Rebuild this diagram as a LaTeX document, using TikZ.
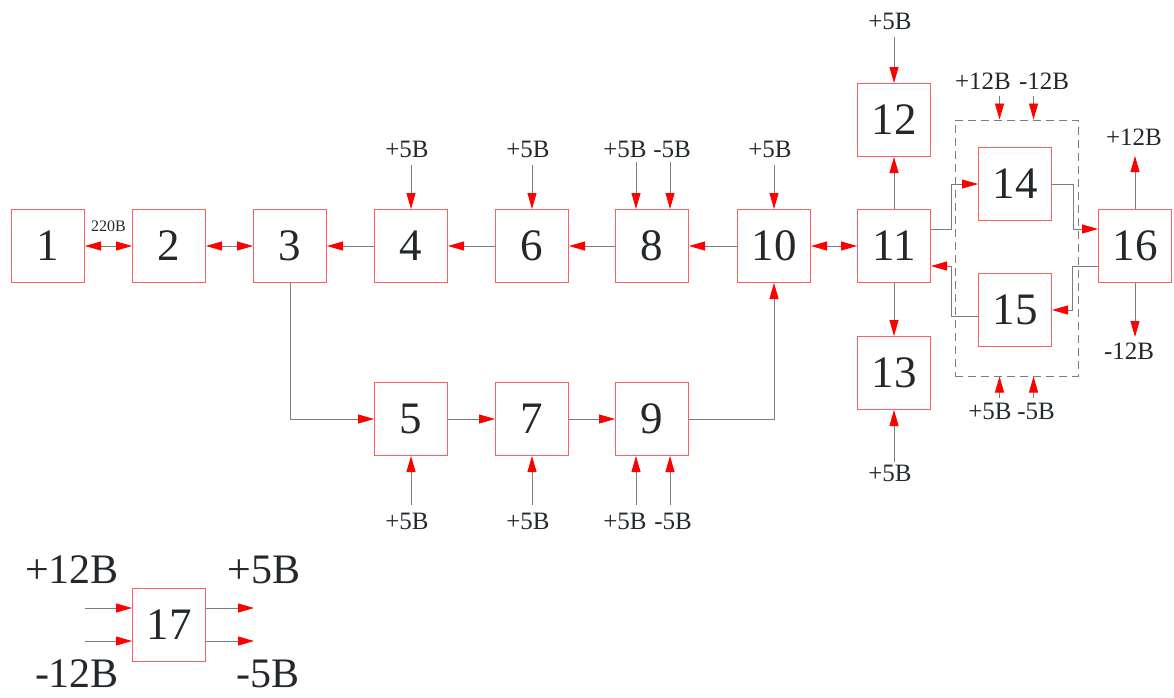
\documentclass[tikz,border=0pt]{standalone}
\usepackage{fontspec}
\setmainfont{Liberation Serif}
\usepackage{tikz}
\usetikzlibrary{arrows.meta}
\definecolor{bxred}{RGB}{255,95,95}
\definecolor{wgray}{RGB}{125,125,125}
\definecolor{txdark}{RGB}{35,40,45}

\begin{document}
\begin{tikzpicture}[x=1pt,y=-1pt,
  >={Triangle[red,length=16pt,width=9pt]},
  blk/.style={draw=bxred, line width=1pt, minimum size=73pt, inner sep=0pt, text=txdark, font=\fontsize{45}{45}\selectfont},
  wire/.style={wgray, line width=0.9pt},
  pw/.style={text=txdark, inner sep=0pt, font=\fontsize{25}{25}\selectfont},
  bigpw/.style={text=txdark, inner sep=0pt, font=\fontsize{42}{42}\selectfont}]
  \useasboundingbox (0,0) rectangle (1174,697);
  % Blocks
  \node[blk] (n1)  at (48,246)   {1};
  \node[blk] (n2)  at (169,246)  {2};
  \node[blk] (n3)  at (290,246)  {3};
  \node[blk] (n4)  at (411,246)  {4};
  \node[blk] (n6)  at (532,246)  {6};
  \node[blk] (n8)  at (652,246)  {8};
  \node[blk] (n10) at (774,246)  {10};
  \node[blk] (n11) at (894,246)  {11};
  \node[blk] (n12) at (894,120)  {12};
  \node[blk] (n13) at (894,373)  {13};
  \node[blk] (n5)  at (411,419)  {5};
  \node[blk] (n7)  at (532,419)  {7};
  \node[blk] (n9)  at (652,419)  {9};
  \node[blk] (n14) at (1015,184) {14};
  \node[blk] (n15) at (1015,310) {15};
  \node[blk] (n16) at (1135,246) {16};
  \node[blk] (n17) at (169,625)  {17};
  \node[draw=wgray, line width=1pt, dash pattern=on 8pt off 5pt, minimum width=123pt, minimum height=256pt, inner sep=0pt] (grp) at (1016.5,248) {};
  % Signal chain
  \draw[wire, <->] (n1) -- (n2) node[pw, midway, yshift=20pt, font=\fontsize{16}{16}\selectfont] {220B};
  \draw[wire, <->] (n2) -- (n3);
  \draw[wire, ->]  (n4) -- (n3);
  \draw[wire, ->]  (n6) -- (n4);
  \draw[wire, ->]  (n8) -- (n6);
  \draw[wire, ->]  (n10) -- (n8);
  \draw[wire, <->] (n10) -- (n11);
  \draw[wire, ->]  (n3.south) |- (n5.west);
  \draw[wire, ->]  (n5) -- (n7);
  \draw[wire, ->]  (n7) -- (n9);
  \draw[wire, ->]  (n9.east) -| (n10.south);
  \draw[wire, ->]  (n11) -- (n12);
  \draw[wire, ->]  (n11) -- (n13);
  \draw[wire, ->]  ([yshift=17pt]n11.east) -- ++(20,0) |- (n14.west);
  \draw[wire, ->]  ([yshift=-6pt]n15.west) -- ++(-27,0) |- ([yshift=-20pt]n11.east);
  \draw[wire, ->]  (n14.east) -- ++(21,0) |- ([yshift=17pt]n16.west);
  \draw[wire, ->]  ([yshift=-20pt]n16.west) -- ++(-26,0) |- (n15.east);
  % Supplies, top row
  \node[pw] (p4)  at (407,149) {+5B};
  \node[pw] (p6)  at (528,149) {+5B};
  \node[pw] (p8a) at (625,149) {+5B};
  \node[pw] (p8b) at (672,149) {-5B};
  \node[pw] (p10) at (770,149) {+5B};
  \node[pw] (p12) at (890,21)  {+5B};
  \draw[wire, ->] (p4.south -| n4.north) ++(0,7) -- (n4.north);
  \draw[wire, ->] (p6.south -| n6.north) ++(0,7) -- (n6.north);
  \draw[wire, ->] ([xshift=-16pt]n8.north) ++(0,-47) -- ([xshift=-16pt]n8.north);
  \draw[wire, ->] ([xshift=18pt]n8.north) ++(0,-47) -- ([xshift=18pt]n8.north);
  \draw[wire, ->] (p10.south -| n10.north) ++(0,7) -- (n10.north);
  \draw[wire, ->] (p12.south -| n12.north) ++(0,7) -- (n12.north);
  % Supplies, bottom row
  \node[pw] (p5)  at (407,521) {+5B};
  \node[pw] (p7)  at (528,521) {+5B};
  \node[pw] (p9a) at (625,521) {+5B};
  \node[pw] (p9b) at (673,521) {-5B};
  \node[pw] (p13) at (890,473) {+5B};
  \draw[wire, ->] (p5.north -| n5.south) ++(0,-8) -- (n5.south);
  \draw[wire, ->] (p7.north -| n7.south) ++(0,-8) -- (n7.south);
  \draw[wire, ->] ([xshift=-16pt]n9.south) ++(0,49) -- ([xshift=-16pt]n9.south);
  \draw[wire, ->] ([xshift=18pt]n9.south) ++(0,49) -- ([xshift=18pt]n9.south);
  \draw[wire, ->] (p13.north -| n13.south) ++(0,-3) -- (n13.south);
  % Supplies of 14/15 group
  \node[pw] (pga) at (983,81)  {+12B};
  \node[pw] (pgb) at (1044,81) {-12B};
  \node[pw] (pgc) at (990,411) {+5B};
  \node[pw] (pgd) at (1036,411) {-5B};
  \draw[wire, ->] ([xshift=-17pt]grp.north) ++(0,-24) -- ([xshift=-17pt]grp.north);
  \draw[wire, ->] ([xshift=17pt]grp.north) ++(0,-24) -- ([xshift=17pt]grp.north);
  \draw[wire, ->] ([xshift=-17pt]grp.south) ++(0,21) -- ([xshift=-17pt]grp.south);
  \draw[wire, ->] ([xshift=17pt]grp.south) ++(0,21) -- ([xshift=17pt]grp.south);
  % Outputs of 16
  \node[pw] (p16a) at (1134,137) {+12B};
  \node[pw] (p16b) at (1129,351) {-12B};
  \draw[wire, ->] (n16.north) -- ++(0,-53);
  \draw[wire, ->] (n16.south) -- ++(0,54);
  % Power unit 17
  \node[bigpw] (q1) at (72,570)  {+12B};
  \node[bigpw] (q2) at (77,674)  {-12B};
  \node[bigpw] (q3) at (264,570) {+5B};
  \node[bigpw] (q4) at (268,674) {-5B};
  \draw[wire, ->] ([yshift=17pt]n17.west) ++(-47,0) -- ([yshift=17pt]n17.west);
  \draw[wire, ->] ([yshift=-16pt]n17.west) ++(-47,0) -- ([yshift=-16pt]n17.west);
  \draw[wire, ->] ([yshift=17pt]n17.east) -- ++(48,0);
  \draw[wire, ->] ([yshift=-16pt]n17.east) -- ++(48,0);
\end{tikzpicture}
\end{document}
